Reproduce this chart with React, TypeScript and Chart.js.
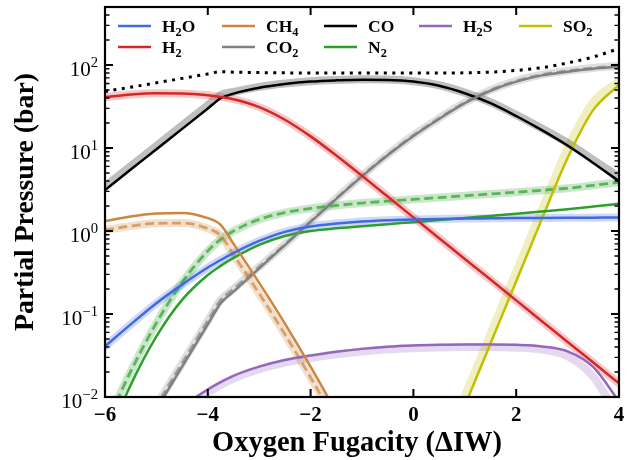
import React, { useEffect, useRef } from "react";
import { Chart, registerables } from "chart.js";

Chart.register(...registerables);

// Oxygen fugacity grid (ΔIW)
const X = [-6, -5.5, -5, -4.5, -4, -3.75, -3.5, -3, -2.5, -2, -1.5, -1, -0.5, 0, 0.5, 1, 1.5, 2, 2.5, 3, 3.5, 4];

// Partial pressures (bar) - solid model
const H2O = [0.0407, 0.075, 0.135, 0.226, 0.363, 0.447, 0.543, 0.759, 0.977, 1.135, 1.23, 1.303, 1.349, 1.38, 1.4, 1.413, 1.422, 1.432, 1.439, 1.445, 1.449, 1.452];
const H2 = [41, 44.2, 45.7, 45.5, 43.2, 41.2, 38.7, 31.1, 21.9, 13.8, 8.13, 4.62, 2.6, 1.46, 0.82, 0.46, 0.26, 0.146, 0.082, 0.046, 0.026, 0.0146];
const CH4 = [1.318, 1.496, 1.622, 1.652, 1.429, 1.189, 0.7, 0.237, 0.0767, 0.0232, 0.00653, 0.00172, 0.000427, 0.0001, null, null, null, null, null, null, null, null];
const CO2 = [0.00068, 0.0022, 0.00716, 0.0232, 0.075, 0.135, 0.186, 0.355, 0.676, 1.29, 2.44, 4.55, 8.18, 13.96, 22.4, 34.7, 49, 63.1, 75, 83.2, 90.2, 95.5];
const CO = [3.12, 5.5, 9.66, 17.0, 29.9, 39.8, 45.2, 53.1, 58.9, 63.1, 65.3, 66.5, 66.1, 63.1, 56.2, 45.7, 34.7, 24.3, 16.4, 10.7, 6.6, 3.98];
const N2 = [0.0027, 0.014, 0.0537, 0.148, 0.295, 0.38, 0.474, 0.682, 0.871, 1.0, 1.076, 1.14, 1.208, 1.279, 1.355, 1.436, 1.52, 1.61, 1.714, 1.832, 1.972, 2.128];
const H2S = [0.00117, 0.0023, 0.0043, 0.0076, 0.0123, 0.0151, 0.018, 0.0232, 0.0279, 0.0316, 0.0351, 0.038, 0.0403, 0.0417, 0.0425, 0.0429, 0.0429, 0.0425, 0.0407, 0.0355, 0.0229, 0.0089];
const SO2 = [null, null, null, null, null, null, null, null, null, null, null, null, null, 0.00025, 0.0014, 0.00785, 0.0442, 0.248, 1.4, 7.59, 28.8, 57.5];

// Partial pressures (bar) - alternative model (shaded / dashed)
const CH4_B = [1.028, 1.148, 1.236, 1.245, 1.072, 0.881, 0.519, 0.176, 0.0569, 0.0172, 0.00484, 0.00127, 0.000316, 0.000074, null, null, null, null, null, null, null, null];
const N2_B = [0.0044, 0.0203, 0.078, 0.24, 0.575, 0.794, 1.0, 1.38, 1.667, 1.871, 2.03, 2.173, 2.29, 2.408, 2.529, 2.661, 2.793, 2.938, 3.097, 3.273, 3.55, 3.85];
const CO2_B = [0.00075, 0.0024, 0.0079, 0.0255, 0.0825, 0.147, 0.2, 0.37, 0.69, 1.31, 2.48, 4.62, 8.3, 14.2, 22.8, 35.3, 49.9, 64.3, 76.5, 85, 92.2, 97.6];
const CO_B = [3.45, 6.05, 10.6, 18.7, 32.9, 43.5, 47.5, 54.5, 59.8, 63.8, 66, 67.2, 66.8, 63.8, 57, 46.5, 35.6, 25.1, 17.2, 11.5, 7.2, 4.45];
const H2S_B = [0.0011, 0.0021, 0.004, 0.0071, 0.0114, 0.014, 0.0167, 0.0216, 0.026, 0.0294, 0.0327, 0.0354, 0.0375, 0.0388, 0.0395, 0.0399, 0.0399, 0.0393, 0.0372, 0.031, 0.0175, 0.0055];
const SO2_B = [null, null, null, null, null, null, null, null, null, null, null, null, null, 0.00033, 0.0018, 0.0102, 0.0575, 0.322, 1.82, 9.9, 36, 63];

// Total pressure (bar)
const TOTAL = [48, 54, 61, 69, 78, 83, 82, 81, 80.5, 80, 80, 80, 80, 80, 80, 80.5, 82, 86, 93, 106, 125, 158];

// Axis ticks
const X_TICKS = [-6, -4, -2, 0, 2, 4];
const Y_EXPONENTS = [-2, -1, 0, 1, 2];

type Seg = { t: string; s?: "sub" | "sup" };

const SPECIES: {
  label: Seg[];
  color: string;
  solid: (number | null)[];
  band: (number | null)[];
  dashed: boolean;
}[] = [
  { label: [{ t: "H" }, { t: "2", s: "sub" }, { t: "O" }], color: "65,105,225", solid: H2O, band: H2O, dashed: false },
  { label: [{ t: "H" }, { t: "2", s: "sub" }], color: "214,39,40", solid: H2, band: H2, dashed: false },
  { label: [{ t: "CH" }, { t: "4", s: "sub" }], color: "205,133,63", solid: CH4, band: CH4_B, dashed: true },
  { label: [{ t: "CO" }, { t: "2", s: "sub" }], color: "128,128,128", solid: CO2, band: CO2_B, dashed: true },
  { label: [{ t: "CO" }], color: "0,0,0", solid: CO, band: CO_B, dashed: false },
  { label: [{ t: "N" }, { t: "2", s: "sub" }], color: "44,160,44", solid: N2, band: N2_B, dashed: true },
  { label: [{ t: "H" }, { t: "2", s: "sub" }, { t: "S" }], color: "148,103,189", solid: H2S, band: H2S_B, dashed: false },
  { label: [{ t: "SO" }, { t: "2", s: "sub" }], color: "192,192,0", solid: SO2, band: SO2_B, dashed: false },
];

// legend placement: [column, row] for each species
const LEGEND_SLOTS = [
  [0, 0], [0, 1], [1, 0], [1, 1], [2, 0], [2, 1], [3, 0], [4, 0],
];
const LEGEND_COL_X = [118, 222, 324, 419, 519];
const LEGEND_ROW_Y = [26, 47];

const SERIF = "'Liberation Serif', 'DejaVu Serif', serif";

function pts(vals: (number | null)[]) {
  return X.map((x, i) => ({ x, y: vals[i] }));
}

function drawRich(ctx: CanvasRenderingContext2D, segs: Seg[], x: number, y: number, size: number, weight: string, align: "left" | "right" | "center") {
  const small = size * 0.7;
  const widths = segs.map((sg) => {
    ctx.font = `${weight} ${sg.s ? small : size}px ${SERIF}`;
    return ctx.measureText(sg.t).width;
  });
  const total = widths.reduce((a, b) => a + b, 0);
  let cx = align === "left" ? x : align === "right" ? x - total : x - total / 2;
  ctx.textAlign = "left";
  ctx.textBaseline = "alphabetic";
  segs.forEach((sg, i) => {
    ctx.font = `${weight} ${sg.s ? small : size}px ${SERIF}`;
    const dy = sg.s === "sub" ? size * 0.22 : sg.s === "sup" ? -size * 0.42 : 0;
    ctx.fillText(sg.t, cx, y + dy);
    cx += widths[i];
  });
  return total;
}

function fitFont(ctx: CanvasRenderingContext2D, text: string, target: number) {
  ctx.font = `bold 20px ${SERIF}`;
  const w = ctx.measureText(text).width;
  return 20 * target / w;
}

const framePlugin = {
  id: "frame",
  afterDraw(chart: any) {
    const ctx: CanvasRenderingContext2D = chart.ctx;
    const { left, right, top, bottom } = chart.chartArea;
    const xs = chart.scales.x;
    const ys = chart.scales.y;
    ctx.save();
    ctx.strokeStyle = "#000";
    ctx.fillStyle = "#000";

    // y ticks (major + minor), inward on both sides
    const yMin = ys.min, yMax = ys.max;
    for (let e = -2; e <= 2; e++) {
      for (let m = 1; m <= 9; m++) {
        const v = m * Math.pow(10, e);
        if (v < yMin * 0.999 || v > yMax * 1.001) continue;
        const py = ys.getPixelForValue(v);
        const major = m === 1;
        const len = major ? 8 : 4.5;
        ctx.lineWidth = major ? 2 : 1.4;
        ctx.beginPath();
        ctx.moveTo(left, py); ctx.lineTo(left + len, py);
        ctx.moveTo(right, py); ctx.lineTo(right - len, py);
        ctx.stroke();
      }
    }
    // x ticks, inward top and bottom
    X_TICKS.forEach((v) => {
      const px = xs.getPixelForValue(v);
      ctx.lineWidth = 2;
      ctx.beginPath();
      ctx.moveTo(px, bottom); ctx.lineTo(px, bottom - 8);
      ctx.moveTo(px, top); ctx.lineTo(px, top + 8);
      ctx.stroke();
    });

    // frame
    ctx.lineWidth = 2.2;
    ctx.strokeRect(left, top, right - left, bottom - top);

    // y tick labels
    Y_EXPONENTS.forEach((e) => {
      const py = ys.getPixelForValue(Math.pow(10, e));
      const exp = e < 0 ? "\u2212" + Math.abs(e) : String(e);
      drawRich(ctx, [{ t: "10" }, { t: exp, s: "sup" }], 98, py + 10.5, 21, "normal", "right");
    });

    // x tick labels
    X_TICKS.forEach((v) => {
      const px = xs.getPixelForValue(v);
      const txt = v < 0 ? "\u2212" + Math.abs(v) : String(v);
      ctx.font = `bold 21px ${SERIF}`;
      ctx.textAlign = "center";
      ctx.textBaseline = "alphabetic";
      ctx.fillText(txt, px, 421);
    });

    // axis titles
    const xTitle = "Oxygen Fugacity (\u0394IW)";
    const yTitle = "Partial Pressure (bar)";
    ctx.textAlign = "center";
    ctx.textBaseline = "alphabetic";
    ctx.font = `bold ${fitFont(ctx, xTitle, 290)}px ${SERIF}`;
    ctx.fillText(xTitle, 357, 451);
    ctx.font = `bold ${fitFont(ctx, yTitle, 258)}px ${SERIF}`;
    ctx.save();
    ctx.translate(33, (top + bottom) / 2);
    ctx.rotate(-Math.PI / 2);
    ctx.fillText(yTitle, 0, 0);
    ctx.restore();

    // legend
    SPECIES.forEach((sp, i) => {
      const [c, r] = LEGEND_SLOTS[i];
      const lx = LEGEND_COL_X[c];
      const ly = LEGEND_ROW_Y[r];
      ctx.strokeStyle = `rgb(${sp.color})`;
      ctx.lineWidth = 2.5;
      ctx.beginPath();
      ctx.moveTo(lx, ly); ctx.lineTo(lx + 33, ly);
      ctx.stroke();
      ctx.fillStyle = "#000";
      drawRich(ctx, sp.label, lx + 44, ly + 6, 17.5, "bold", "left");
    });

    ctx.restore();
  },
};

export default function App() {
  const ref = useRef<HTMLCanvasElement>(null);
  useEffect(() => {
    document.body.style.margin = "0";
    const canvas = ref.current!;
    const datasets: any[] = [];
    SPECIES.forEach((sp) => {
      datasets.push({
        data: pts(sp.band),
        borderColor: `rgba(${sp.color},0.25)`,
        borderWidth: 8,
        borderCapStyle: "round",
        borderJoinStyle: "round",
        order: 4,
      });
      if (sp.dashed) {
        datasets.push({
          data: pts(sp.band),
          borderColor: `rgba(${sp.color},0.7)`,
          borderWidth: 2.8,
          borderDash: [9, 4.5],
          order: 3,
        });
      }
      datasets.push({
        data: pts(sp.solid),
        borderColor: `rgb(${sp.color})`,
        borderWidth: 2.5,
        order: 2,
      });
    });
    datasets.push({
      data: pts(TOTAL),
      borderColor: "#000",
      borderWidth: 3,
      borderDash: [3, 5.5],
      order: 1,
    });
    datasets.forEach((d) => {
      d.pointRadius = 0;
      d.fill = false;
      d.cubicInterpolationMode = "monotone";
      d.clip = 0;
    });

    const chart = new Chart(canvas, {
      type: "line",
      data: { datasets },
      options: {
        responsive: false,
        animation: false,
        devicePixelRatio: 1,
        layout: { padding: { top: 7, right: 20, left: 0, bottom: 0 } },
        plugins: { legend: { display: false }, tooltip: { enabled: false } },
        scales: {
          x: {
            type: "linear",
            min: -6,
            max: 4,
            ticks: { display: false },
            grid: { display: false },
            border: { display: false },
            afterFit: (s: any) => { s.height = 63; },
          },
          y: {
            type: "logarithmic",
            min: 0.01,
            max: 500,
            ticks: { display: false },
            grid: { display: false },
            border: { display: false },
            afterFit: (s: any) => { s.width = 105; },
          },
        },
      },
      plugins: [framePlugin],
    } as any);
    return () => chart.destroy();
  }, []);
  return (
    <div style={{ width: 639, height: 460 }}>
      <canvas ref={ref} width={639} height={460} style={{ display: "block", width: 639, height: 460 }} />
    </div>
  );
}
